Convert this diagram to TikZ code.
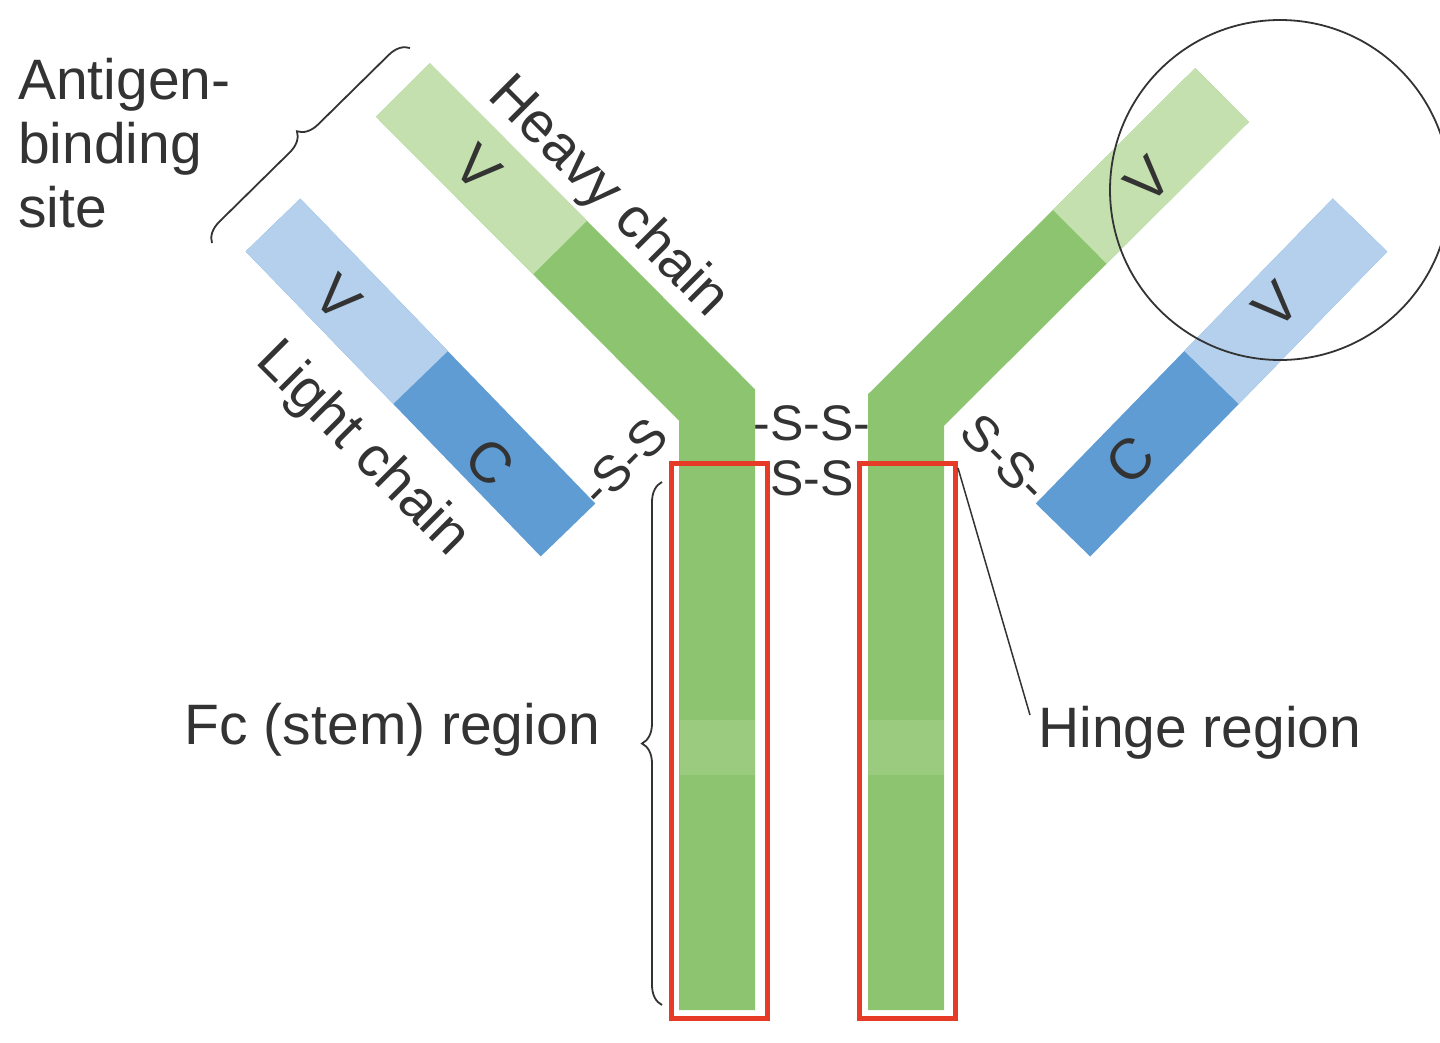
\documentclass[tikz,border=0pt]{standalone}
\usepackage{fontspec}
\setmainfont{Liberation Sans}
\usetikzlibrary{decorations.pathreplacing,calc}
\definecolor{gl}{HTML}{C3E0AE}
\definecolor{gd}{HTML}{8DC46F}
\definecolor{bl}{HTML}{B4D0EC}
\definecolor{bd}{HTML}{5E9CD3}
\definecolor{rd}{HTML}{E53B27}
\definecolor{tx}{HTML}{333333}
\begin{document}
\begin{tikzpicture}[x=1pt,y=-1pt,
  lab/.style={text=tx,font=\fontsize{57}{64}\selectfont,inner sep=0},
  slab/.style={text=tx,font=\fontsize{50}{54}\selectfont,inner sep=0},
  band/.style={line width=76pt},
  brc/.style={draw=tx,line width=1.8pt,decorate,decoration={brace,amplitude=20pt}}]
\useasboundingbox (0,0) rectangle (1440,1042);
% coordinates
\coordinate (LT) at (403,90);
\coordinate (LB) at (717,405);
\coordinate (LS) at (717,1010);
\coordinate (RT) at (1222,95);
\coordinate (RB) at (906,410);
\coordinate (RS) at (906,1010);
% heavy chains
\draw[band,gd,line join=miter] (LT) -- (LB) -- (LS);
\draw[band,gl] (LT) -- ($(LT)!0.5!(LB)$);
\draw[band,gd,line join=miter] (RT) -- (RB) -- (RS);
\draw[band,gl] (RT) -- ($(RT)!0.45!(RB)$);
\fill[gl!25!gd] (680,720) rectangle (755,775);
\fill[gl!25!gd] (868,720) rectangle (944,775);
% light chains
\coordinate (LLa) at (273,225);
\coordinate (LLb) at (568,530);
\coordinate (RLa) at (1360,225);
\coordinate (RLb) at (1063,530);
\draw[band,bd] (LLa) -- (LLb);
\draw[band,bl] (LLa) -- ($(LLa)!0.5!(LLb)$);
\draw[band,bd] (RLa) -- (RLb);
\draw[band,bl] (RLa) -- ($(RLa)!0.5!(RLb)$);
% red boxes
\draw[rd,line width=5pt] (671,463) rectangle (767,1018) (859,463) rectangle (955,1018);
% circle
\node[draw=tx,line width=1.8pt,circle,minimum size=340pt] (circ) at (1280,190) {};
% labels
\node[lab,rotate=-45] (hc) at (608,198) {Heavy chain};
\node[lab,rotate=-45] (lc) at (362,450) {Light chain};
\node[lab,rotate=-45] (v1) at (478,168) {V};
\node[lab,rotate=-45] (v2) at (338,298) {V};
\node[lab,rotate=-45] (c1) at (490,462) {C};
\node[lab,rotate=45] (v3) at (1148,180) {V};
\node[lab,rotate=45] (v4) at (1276,305) {V};
\node[lab,rotate=45] (c2) at (1130,460) {C};
\node[slab] (ss1) at (812,423) {-S-S-};
\node[slab] (ss2) at (812,478) {S-S};
\node[slab,rotate=45] (ss3) at (624,462) {-S-S};
\node[slab,rotate=-45] (ss4) at (1005,458) {S-S-};
\node[lab,align=left,anchor=north west] (ag) at (18,58) {Antigen-\\binding\\site};
\node[lab,anchor=east] (fc) at (600,730) {Fc (stem) region};
\node[lab,anchor=west] (hg) at (1038,733) {Hinge region};
\coordinate (hp) at (958,468);
\draw[tx,line width=1.5pt] ($(hg.west)+(-8,-18)$) -- (hp);
% braces
\draw[brc] (212,243) -- (410,48);
\draw[brc] (662,1005) -- (662,482);
\end{tikzpicture}
\end{document}
